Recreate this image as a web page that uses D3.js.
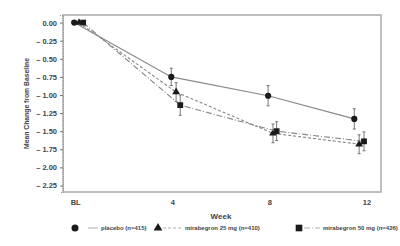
<!DOCTYPE html>
<html>
<head>
<meta charset="utf-8">
<script src="https://cdn.jsdelivr.net/npm/d3@7"></script>
<style>
  body { margin: 0; background: #fff; }
  text { font-family: "Liberation Sans", Arial, sans-serif; font-weight: bold; fill: #444; }
</style>
</head>
<body>
<div id="chart-area"></div>
<script>
// visit labels on the x axis (weeks)
const visitWeeks = [0, 4, 8, 12];
const visitLabels = ["BL", "4", "8", "12"];
const yTicks = [0, -0.25, -0.5, -0.75, -1, -1.25, -1.5, -1.75, -2, -2.25];

// plotted (slightly jittered) week positions
const placeboWeek = [-0.04, 3.96, 7.95, 11.5];
const mira25Week = [0.16, 4.16, 8.15, 11.7];
const mira50Week = [0.33, 4.33, 8.3, 11.9];

// mean change from baseline
const placeboMean = [0, -0.75, -1.01, -1.33];
const mira25Mean = [0, -0.96, -1.53, -1.68];
const mira50Mean = [0, -1.14, -1.50, -1.64];

// standard error (half bar length)
const placeboErr = [0, 0.12, 0.14, 0.14];
const mira25Err = [0, 0.13, 0.13, 0.13];
const mira50Err = [0, 0.14, 0.13, 0.13];

const seriesNames = ["placebo (n=415)", "mirabegron 25 mg (n=410)", "mirabegron 50 mg (n=426)"];

const canvasWidth = 400;
const canvasHeight = 246;
const margin = {left: 63, top: 15, right: 19, bottom: 54};
const chartWidth = canvasWidth - margin.left - margin.right;
const chartHeight = canvasHeight - margin.top - margin.bottom;

const canvas = d3.select("#chart-area").append("svg").attr("width", canvasWidth).attr("height", canvasHeight);
const chartGroup = canvas.append("g").attr("transform", `translate(${margin.left}, ${margin.top})`);

const xScale = d3.scaleLinear().domain([-0.5, 12.6]).range([0, chartWidth]);
const yScale = d3.scaleLinear().domain([0.105, -2.34]).range([0, chartHeight]);

// frame
chartGroup.append("rect")
  .attr("width", chartWidth).attr("height", chartHeight)
  .attr("fill", "none").attr("stroke", "#aaa").attr("stroke-width", 1.5);

// y axis
const fmt = v => v === 0 ? "0.00" : "\u2013 " + d3.format(".2f")(Math.abs(v));
const yAxis = d3.axisLeft(yScale).tickValues(yTicks).tickFormat(fmt).tickSize(3).tickPadding(3);
const yG = chartGroup.append("g").call(yAxis);
yG.select(".domain").attr("stroke", "#999").attr("stroke-dasharray", "1,1");
yG.selectAll(".tick line").attr("stroke", "#777");
yG.selectAll("text").attr("font-size", "7.5px").attr("fill", "#3a3a3a").style("font-family", "Liberation Sans, Arial, sans-serif");

// x axis labels
const xAxis = d3.axisBottom(xScale).tickValues(visitWeeks).tickFormat((d, i) => visitLabels[i]).tickSize(0).tickPadding(8);
const xG = chartGroup.append("g").attr("transform", `translate(0, ${chartHeight})`).call(xAxis);
xG.select(".domain").remove();
xG.selectAll("text").attr("font-size", "7.5px").attr("fill", "#3a3a3a").style("font-family", "Liberation Sans, Arial, sans-serif");

// axis titles
canvas.append("text")
  .attr("font-size", "8px").attr("text-anchor", "middle")
  .attr("x", 221).attr("y", 219)
  .text("Week");

canvas.append("text")
  .attr("font-size", "6.8px").attr("text-anchor", "middle")
  .attr("transform", `translate(29, ${margin.top + chartHeight / 2}) rotate(-90)`)
  .text("Mean Change from Baseline");

const series = [
  {weeks: placeboWeek, mean: placeboMean, err: placeboErr, dash: null, shape: d3.symbolCircle, size: 30},
  {weeks: mira25Week, mean: mira25Mean, err: mira25Err, dash: "3,2", shape: d3.symbolTriangle, size: 26},
  {weeks: mira50Week, mean: mira50Mean, err: mira50Err, dash: "6,2,1,2", shape: d3.symbolSquare, size: 34}
];

const line = d3.line().x(d => xScale(d.w)).y(d => yScale(d.m));

series.forEach(s => {
  const pts = s.weeks.map((w, i) => ({w: w, m: s.mean[i], e: s.err[i]}));

  chartGroup.append("path")
    .datum(pts)
    .attr("d", line)
    .attr("fill", "none")
    .attr("stroke", "#888")
    .attr("stroke-width", 1.1)
    .attr("stroke-dasharray", s.dash);

  const eb = chartGroup.append("g").selectAll("g")
    .data(pts.filter(d => d.e > 0))
    .enter().append("g");
  eb.append("line")
    .attr("x1", d => xScale(d.w)).attr("x2", d => xScale(d.w))
    .attr("y1", d => yScale(d.m - d.e)).attr("y2", d => yScale(d.m + d.e))
    .attr("stroke", "#555").attr("stroke-width", 0.8);
  [d => d.m - d.e, d => d.m + d.e].forEach(f => {
    eb.append("line")
      .attr("x1", d => xScale(d.w) - 1.5).attr("x2", d => xScale(d.w) + 1.5)
      .attr("y1", d => yScale(f(d))).attr("y2", d => yScale(f(d)))
      .attr("stroke", "#555").attr("stroke-width", 0.8);
  });

  chartGroup.append("g").selectAll("path")
    .data(pts)
    .enter().append("path")
    .attr("d", d3.symbol().type(s.shape).size(s.size))
    .attr("transform", d => `translate(${xScale(d.w)}, ${yScale(d.m)})`)
    .attr("fill", "#1a1a1a");
});

// legend
const legendY = 228;
const legendItems = [
  {x: 75, lineX: [88, 98], textX: 101},
  {x: 158, lineX: [163, 183], textX: 185},
  {x: 299, lineX: [304, 320], textX: 323}
];
legendItems.forEach((it, i) => {
  canvas.append("path")
    .attr("d", d3.symbol().type(series[i].shape).size(series[i].size * 1.3))
    .attr("transform", `translate(${it.x}, ${legendY})`)
    .attr("fill", "#1a1a1a");
  canvas.append("line")
    .attr("x1", it.lineX[0]).attr("x2", it.lineX[1])
    .attr("y1", legendY).attr("y2", legendY)
    .attr("stroke", "#999").attr("stroke-width", 0.8)
    .attr("stroke-dasharray", series[i].dash);
  canvas.append("text")
    .attr("font-size", "6px")
    .attr("x", it.textX).attr("y", legendY + 2)
    .text(seriesNames[i]);
});
</script>
</body>
</html>
